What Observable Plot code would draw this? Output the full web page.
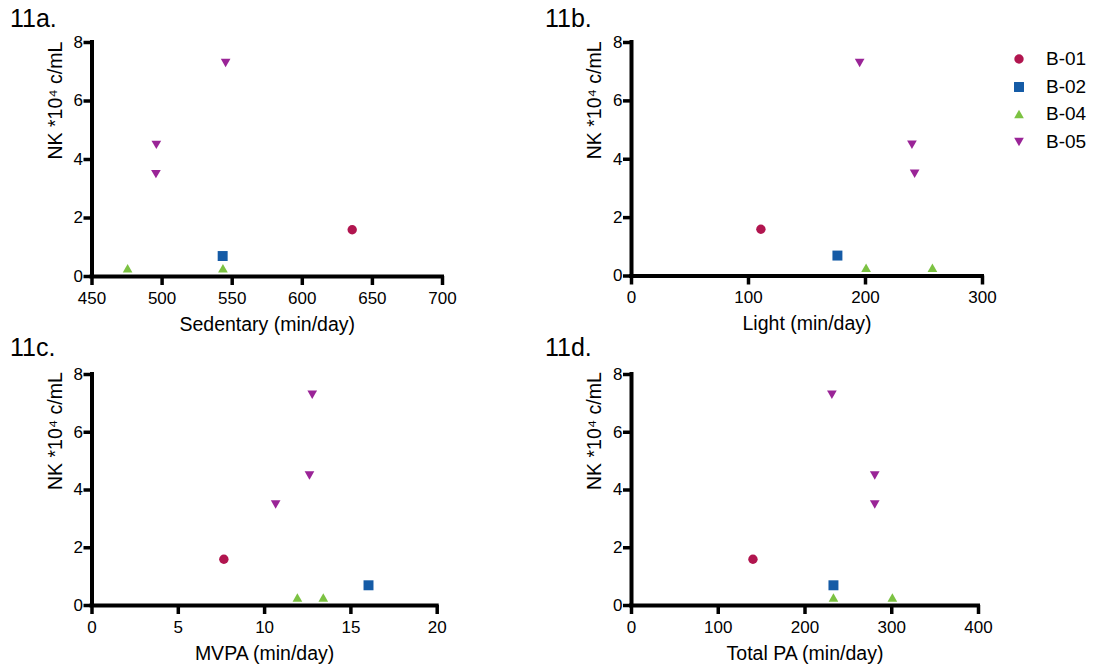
<!DOCTYPE html>
<html><head><meta charset="utf-8">
<script src="https://cdn.jsdelivr.net/npm/d3@7"></script>
<script src="https://cdn.jsdelivr.net/npm/@observablehq/plot@0.6"></script>
<style>
html,body{margin:0;padding:0;background:#fff;}
body{width:1094px;height:667px;position:relative;overflow:hidden;font-family:"Liberation Sans",Arial,sans-serif;color:#000;}
.panel{position:absolute;width:547px;}
.panel svg{max-width:none !important;}
.tag{position:absolute;font-size:25px;line-height:25px;white-space:nowrap;}
.leg{position:absolute;font-size:19px;line-height:28px;height:28px;white-space:nowrap;}
.leg svg{position:absolute;left:0;top:4px;}
.leg span{position:absolute;left:37px;top:0;}
</style></head><body>
<script>
// ---- data ----
const series = ["B-01", "B-02", "B-04", "B-05"];
const colors = ["#B1154F", "#155BA6", "#7CC242", "#9A2497"];
const pointSeries = ["B-01", "B-02", "B-04", "B-04", "B-05", "B-05", "B-05"];
const nk = [1.6, 0.7, 0.28, 0.28, 7.3, 4.5, 3.5];
const sedentary = [635.6, 543.2, 475.4, 543.4, 545.3, 495.9, 495.6];
const light = [110.6, 176, 200.5, 257.2, 195, 239.7, 242];
const mvpa = [7.64, 16.02, 11.9, 13.4, 12.76, 12.6, 10.64];
const totalPA = [140, 232.8, 232.8, 300.7, 231, 280.4, 280.4];
const yTicks = [0, 2, 4, 6, 8];
const sedTicks = [450, 500, 550, 600, 650, 700];
const lightTicks = [0, 100, 200, 300];
const mvpaTicks = [0, 5, 10, 15, 20];
const totalTicks = [0, 100, 200, 300, 400];
const panelTags = ["11a.", "11b.", "11c.", "11d."];
const xTitles = ["Sedentary (min/day)", "Light (min/day)", "MVPA (min/day)", "Total PA (min/day)"];
const yTitle = "NK *10⁴ c/mL";

// ---- symbols ----
const rad = (size) => Math.sqrt(size / Math.PI);
const symCircle = {draw(c, size) { const r = rad(size); c.moveTo(r, 0); c.arc(0, 0, r, 0, 2 * Math.PI); c.closePath(); }};
const symSquare = {draw(c, size) { const h = 1.06 * rad(size); c.moveTo(-h, -h); c.lineTo(h, -h); c.lineTo(h, h); c.lineTo(-h, h); c.closePath(); }};
const symUp = {draw(c, size) { const r = rad(size), w = 1.03 * r, h = 0.9 * r; c.moveTo(0, -h); c.lineTo(w, h); c.lineTo(-w, h); c.closePath(); }};
const symDown = {draw(c, size) { const r = rad(size), w = 1.03 * r, h = 0.9 * r; c.moveTo(0, h); c.lineTo(-w, -h); c.lineTo(w, -h); c.closePath(); }};
const symbolRange = [symCircle, symSquare, symUp, symDown];

const FONT = '"Liberation Sans", Arial, Helvetica, sans-serif';

function makePanel(cfg) {
  const data = nk.map((v, i) => ({x: cfg.xValues[i], y: v, s: pointSeries[i]}));
  const xDomain = [cfg.xTicks[0], cfg.xTicks[cfg.xTicks.length - 1]];
  const chart = Plot.plot({
    width: cfg.width, height: cfg.height,
    marginLeft: cfg.ml, marginRight: cfg.mr, marginTop: cfg.mt, marginBottom: cfg.mb,
    x: {domain: xDomain},
    y: {domain: [yTicks[0], yTicks[yTicks.length - 1]]},
    symbol: {domain: series, range: symbolRange},
    color: {domain: series, range: colors},
    style: {fontFamily: FONT, fontSize: "17px", color: "#000", background: "transparent", overflow: "visible"},
    marks: [
      Plot.axisX({ticks: cfg.xTicks, tickSize: 9, tickPadding: 6, strokeWidth: 3.5, label: null, fontSize: 17}),
      Plot.axisY({ticks: yTicks, tickSize: 8, tickPadding: 1, strokeWidth: 3.5, label: null, fontSize: 17}),
      Plot.ruleX([xDomain[0]], {strokeWidth: 4, strokeLinecap: "square"}),
      Plot.ruleY([yTicks[0]], {strokeWidth: 4, strokeLinecap: "square"}),
      Plot.text([cfg.xTitle], {text: d => d, frameAnchor: "bottom", dy: 48, lineAnchor: "middle", fontSize: 19.5}),
      Plot.text([yTitle], {text: d => d, frameAnchor: "left", dx: -36.5, rotate: -90, lineAnchor: "middle", fontSize: 19.5}),
      Plot.dot(data, {x: "x", y: "y", symbol: "s", fill: "s", r: 4.7})
    ]
  });
  const wrap = document.createElement("div");
  wrap.className = "panel";
  wrap.style.left = cfg.left + "px";
  wrap.style.top = cfg.top + "px";
  wrap.appendChild(chart);
  document.body.appendChild(wrap);
}

makePanel({xValues: sedentary, xTicks: sedTicks, xTitle: xTitles[0], left: 0, top: 0, width: 547, height: 333, ml: 91.5, mr: 105, mt: 42, mb: 57});
makePanel({xValues: light, xTicks: lightTicks, xTitle: xTitles[1], left: 547, top: 0, width: 547, height: 333, ml: 84, mr: 112, mt: 42, mb: 57.5});
makePanel({xValues: mvpa, xTicks: mvpaTicks, xTitle: xTitles[2], left: 0, top: 333, width: 547, height: 334, ml: 91.5, mr: 110.3, mt: 41, mb: 62});
makePanel({xValues: totalPA, xTicks: totalTicks, xTitle: xTitles[3], left: 547, top: 333, width: 547, height: 334, ml: 84, mr: 116, mt: 41, mb: 62});

// panel tags
const tagPos = [[10, 6], [545, 6], [10, 335], [545, 335]];
panelTags.forEach((t, i) => {
  const d = document.createElement("div");
  d.className = "tag";
  d.style.left = tagPos[i][0] + "px";
  d.style.top = tagPos[i][1] + "px";
  d.textContent = t;
  document.body.appendChild(d);
});

// legend
series.forEach((s, i) => {
  const d = document.createElement("div");
  d.className = "leg";
  d.style.left = "1009px";
  d.style.top = (45 + i * 27.7) + "px";
  const svg = d3.create("svg").attr("width", 20).attr("height", 20);
  svg.append("path")
    .attr("transform", "translate(10,10)")
    .attr("fill", colors[i])
    .attr("d", d3.symbol(symbolRange[i], Math.PI * 4.7 * 4.7)());
  d.appendChild(svg.node());
  const sp = document.createElement("span");
  sp.textContent = s;
  d.appendChild(sp);
  document.body.appendChild(d);
});
</script>
</body></html>
